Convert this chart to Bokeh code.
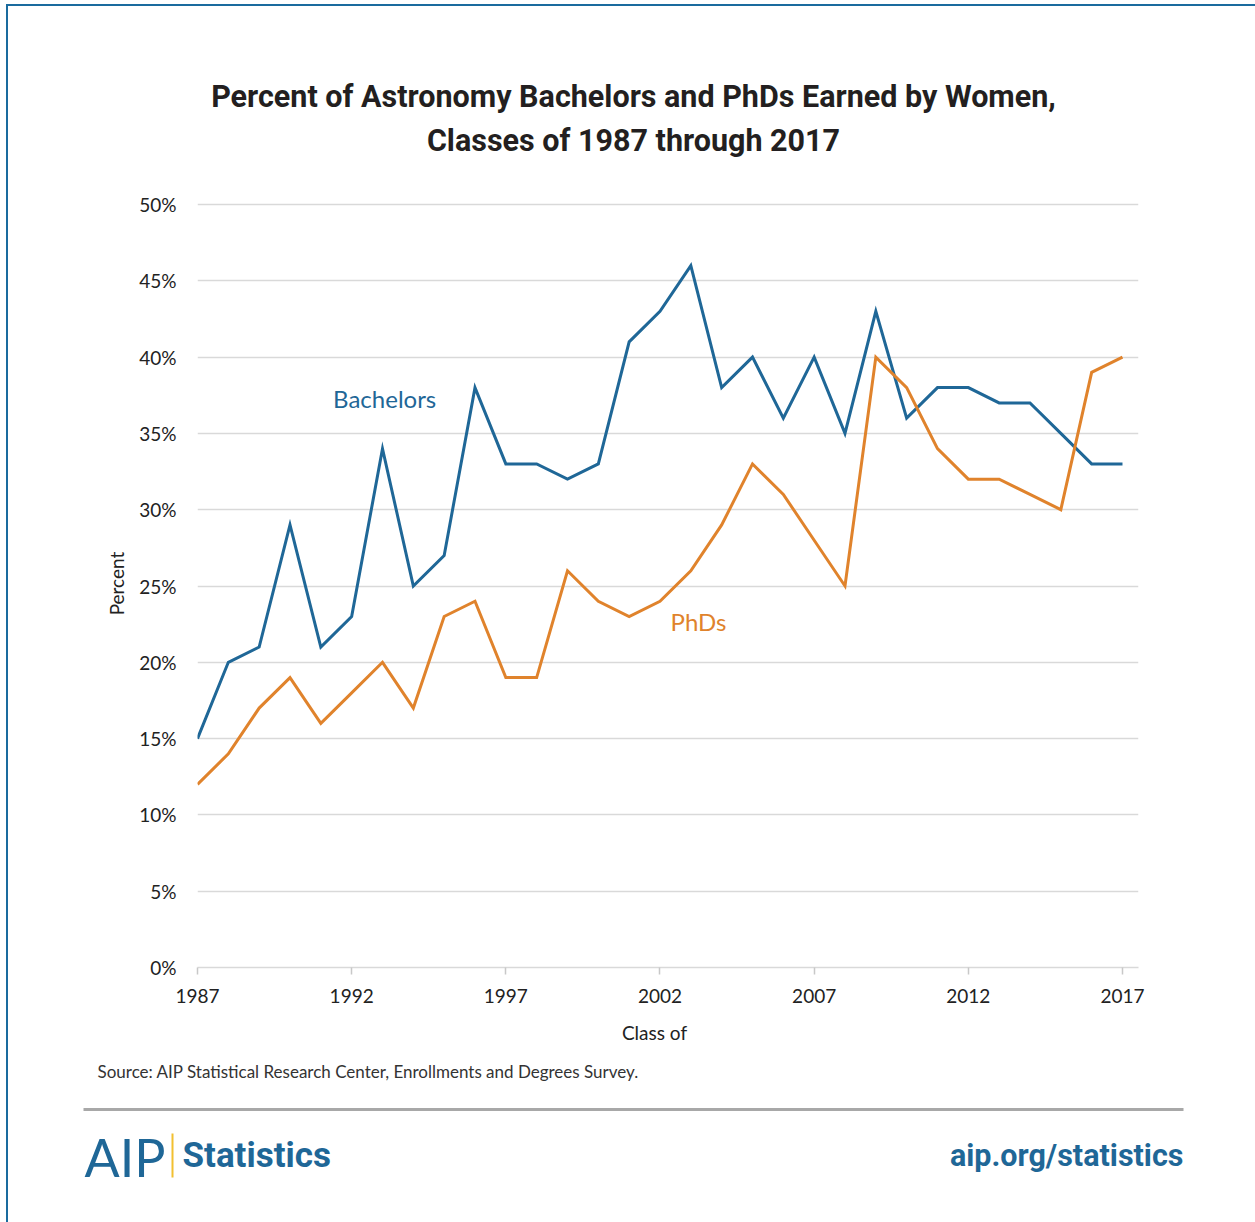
from bokeh.plotting import figure
from bokeh.models import Range1d, FixedTicker, PrintfTickFormatter
from bokeh.layouts import column
from bokeh.embed import file_html
from bokeh.resources import INLINE
from bokeh.core.properties import value

# Share of astronomy degrees earned by women, by graduating class
years = list(range(1987, 2018))
bachelors = [15, 20, 21, 29, 21, 23, 34, 25, 27, 38,
             33, 33, 32, 33, 41, 43, 46, 38, 40, 36,
             40, 35, 43, 36, 38, 38, 37, 37, 35, 33, 33]
phds = [12, 14, 17, 19, 16, 18, 20, 17, 23, 24,
        19, 19, 26, 24, 23, 24, 26, 29, 33, 31,
        28, 25, 40, 38, 34, 32, 32, 31, 30, 39, 40]

x_ticks = [1987, 1992, 1997, 2002, 2007, 2012, 2017]
y_ticks = list(range(0, 51, 5))

title_lines = ["Percent of Astronomy Bachelors and PhDs Earned by Women,",
               "Classes of 1987 through 2017"]
x_title = "Class of"
y_title = "Percent"
source_note = "Source: AIP Statistical Research Center, Enrollments and Degrees Survey."

BLUE = "#1f6797"
ORANGE = "#e0832c"
FRAME = "#1a6b9e"
GRID = "#d9d9d9"
INK = "#222222"
BODY_FONT = "Lato"
HEAD_FONT = "Roboto"

W = 1247


def panel(y_top, y_bottom):
    """A blank figure whose data coordinates equal page pixels."""
    f = figure(width=W, height=y_bottom - y_top,
               x_range=Range1d(8, 8 + W), y_range=Range1d(y_bottom, y_top),
               x_axis_location=None, y_axis_location=None,
               output_backend="svg", toolbar_location=None, min_border=0,
               frame_align=False)
    f.grid.visible = False
    f.outline_line_color = None
    return f


# ---- header with the two-line title
head = panel(6, 185)
head.text(x=[633, 633], y=[96, 140], text=title_lines,
          text_align="center", text_baseline="middle",
          text_font=value(HEAD_FONT), text_font_style="bold",
          text_font_size="30.5px", text_color="#231f20")

# ---- main chart
px_per_year = 30.833
px_per_pct = 15.26
chart = figure(width=W, height=830,
               x_range=Range1d(1987, 1987 + 941 / px_per_year),
               y_range=Range1d(0, 768 / px_per_pct),
               output_backend="svg", toolbar_location=None,
               min_border_left=189, min_border_right=117,
               min_border_top=14, min_border_bottom=48,
               frame_align=False)
chart.outline_line_color = None
chart.xgrid.visible = False
chart.ygrid.ticker = FixedTicker(ticks=y_ticks)
chart.ygrid.grid_line_color = GRID
chart.ygrid.grid_line_width = 1.5

chart.line(years, bachelors, line_color=BLUE, line_width=3, line_join="miter")
chart.line(years, phds, line_color=ORANGE, line_width=3, line_join="miter")

chart.text(x=[1993.07], y=[37.3], text=["Bachelors"], text_align="center",
           text_baseline="middle", text_font=value(BODY_FONT),
           text_font_size="24px", text_color=BLUE)
chart.text(x=[2003.25], y=[22.7], text=["PhDs"], text_align="center",
           text_baseline="middle", text_font=value(BODY_FONT),
           text_font_size="24px", text_color=ORANGE)

xa = chart.xaxis[0]
xa.ticker = FixedTicker(ticks=x_ticks)
xa.axis_line_color = GRID
xa.axis_line_width = 1.5
xa.major_tick_line_color = "#c8c8c8"
xa.major_tick_line_width = 1.5
xa.major_tick_out = 7
xa.major_tick_in = 0
xa.minor_tick_line_color = None
xa.major_label_standoff = 14
xa.major_label_text_font = BODY_FONT
xa.major_label_text_font_size = "19px"
xa.major_label_text_color = INK

ya = chart.yaxis[0]
ya.ticker = FixedTicker(ticks=y_ticks)
ya.formatter = PrintfTickFormatter(format="%d%%")
ya.axis_line_color = None
ya.major_tick_line_color = None
ya.minor_tick_line_color = None
ya.major_tick_out = 0
ya.major_tick_in = 0
ya.major_label_standoff = 21
ya.major_label_text_font = BODY_FONT
ya.major_label_text_font_size = "19px"
ya.major_label_text_color = INK
ya.axis_label = y_title
ya.axis_label_text_font = BODY_FONT
ya.axis_label_text_font_size = "19px"
ya.axis_label_text_font_style = "normal"
ya.axis_label_text_color = INK
ya.axis_label_standoff = 8

# ---- footer: x-axis title, source, rule, branding
foot = panel(1015, 1222)
foot.text(x=[654], y=[1032], text=[x_title], text_align="center",
          text_baseline="middle", text_font=value(BODY_FONT),
          text_font_size="19px", text_color=INK)
foot.text(x=[97], y=[1071], text=[source_note], text_align="left",
          text_baseline="middle", text_font=value(BODY_FONT),
          text_font_size="17px", text_color="#333333")
foot.segment(x0=[83], y0=[1109], x1=[1183], y1=[1109],
             line_color="#a8a8a8", line_width=3)
foot.text(x=[84], y=[1156], text=["AIP"], text_align="left",
          text_baseline="middle", text_font=value(BODY_FONT),
          text_font_size="52px", text_color=BLUE)
foot.segment(x0=[172], y0=[1133], x1=[172], y1=[1177],
             line_color="#f2c030", line_width=2)
foot.text(x=[182], y=[1155], text=["Statistics"], text_align="left",
          text_baseline="middle", text_font=value(HEAD_FONT),
          text_font_style="bold", text_font_size="35px", text_color=BLUE)
foot.text(x=[1183], y=[1155], text=["aip.org/statistics"], text_align="right",
          text_baseline="middle", text_font=value(HEAD_FONT),
          text_font_style="bold", text_font_size="30.5px", text_color=BLUE)

page = column(head, chart, foot, spacing=0,
              styles={"border-left": f"2px solid {FRAME}",
                      "border-top": f"2px solid {FRAME}",
                      "margin-left": "6px", "margin-top": "4px"})

open("out.html", "w").write(file_html(page, INLINE))
